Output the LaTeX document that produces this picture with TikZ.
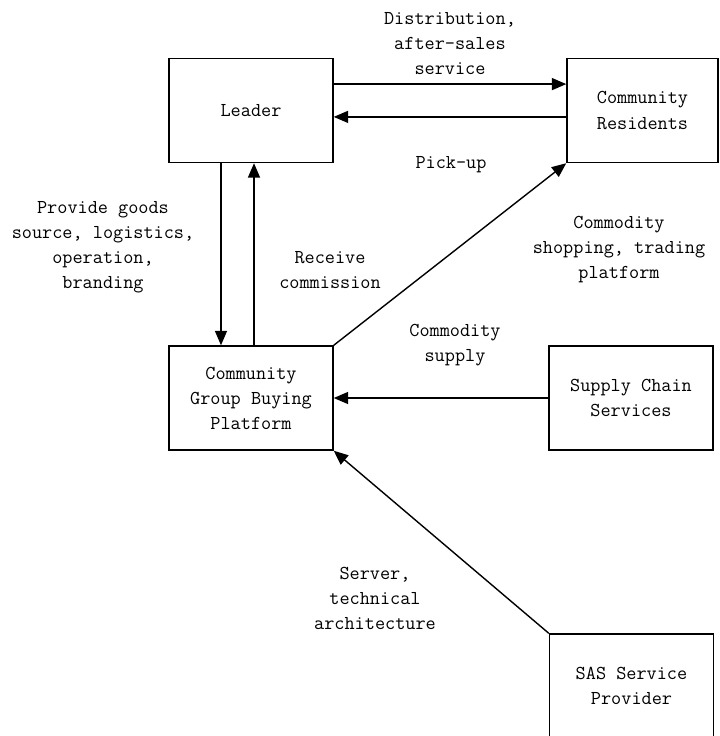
\documentclass[tikz,border=0pt]{standalone}
\usetikzlibrary{arrows.meta}
\tikzset{
  box/.style={draw,line width=1pt,minimum width=4.1cm,minimum height=2.6cm,align=center,inner sep=2pt},
  lbl/.style={align=center,inner sep=0pt},
  flow/.style={line width=1pt,-{Triangle[length=0.36cm,width=0.3cm]}}
}
\begin{document}
\begin{tikzpicture}[x=0.025cm,y=-0.025cm,font=\ttfamily\fontsize{14}{17.8}\selectfont]
      \clip (0,0) rectangle (719,736);
      \draw
        (251,110.5) node[box] (leader){Leader}
        (642.5,110.5) node[box,minimum width=3.775cm] (residents){Community\\Residents}
        (251,398) node[box] (platform){Community\\Group Buying\\Platform}
        (631,398) node[box] (supply){Supply Chain\\Services}
        (631.5,686) node[box] (sas){SAS Service\\Provider};
      \draw
        (450,44) node[lbl] (l1){Distribution,\\after-sales\\service}
        (451,165) node[lbl] (l2){Pick-up}
        (103,247) node[lbl] (l3){Provide goods\\source, logistics,\\operation,\\branding}
        (330,270) node[lbl] (l4){Receive\\commission}
        (619,250) node[lbl] (l5){Commodity\\shopping, trading\\platform}
        (455,345) node[lbl] (l6){Commodity\\supply}
        (375,598) node[lbl] (l7){Server,\\technical\\architecture};
      \begin{scope}[flow]
        \draw ([yshift=0.66cm]leader.east) to ([yshift=0.66cm]residents.west);
        \draw ([yshift=-0.16cm]residents.west) to ([yshift=-0.16cm]leader.east);
        \draw ([xshift=-0.75cm]leader.south) to ([xshift=-0.75cm]platform.north);
        \draw ([xshift=0.075cm]platform.north) to ([xshift=0.075cm]leader.south);
        \draw (platform.north east) to (residents.south west);
        \draw (supply.west) to (platform.east);
        \draw (sas.north west) to (platform.south east);
      \end{scope}
    \end{tikzpicture}
\end{document}
